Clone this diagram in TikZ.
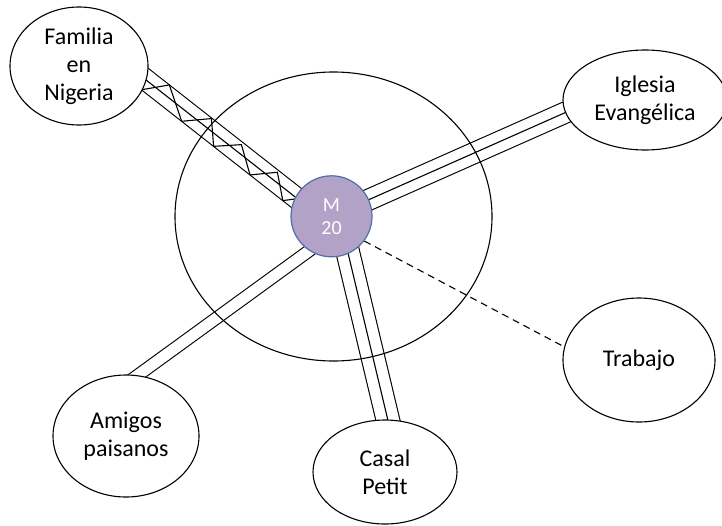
\documentclass[tikz,border=0pt]{standalone}
\usepackage{fontspec}
\setmainfont{Carlito}
\usetikzlibrary{shapes.geometric,calc,backgrounds}
\definecolor{mfill}{HTML}{B3A2C7}
\definecolor{mborder}{HTML}{4F6FA8}
\begin{document}
\begin{tikzpicture}[x=1pt,y=-1pt,
  ent/.style={draw=black, ellipse, line width=1.1pt, fill=white, inner sep=0pt,
    align=center, font=\fontsize{24}{28}\selectfont},
  link/.style={draw=black, line width=1.1pt},
  band/.style={link, double=white, double distance=#1},
  me/.style={circle, draw=mborder, line width=1.2pt, fill=mfill, minimum size=81pt,
    inner sep=0pt, align=center, text=white, font=\fontsize{20}{23}\selectfont},
  weak/.style={link, dash pattern=on 7pt off 5pt}]
\useasboundingbox (0,0) rectangle (722,525);

% nodes
\node[me] (m) at (331.5,216.3) {M\\20};
\node[ent, minimum width=138pt, minimum height=118pt] (fam) at (79,66) {Familia\\en\\Nigeria};
\node[ent, minimum width=164pt, minimum height=100pt] (igl) at (645,100) {Iglesia\\Evangélica};
\node[ent, minimum width=146pt, minimum height=122pt] (ami) at (126,436) {Amigos\\paisanos};
\node[ent, minimum width=144pt, minimum height=104pt] (cas) at (385,472) {Casal\\Petit};
\node[ent, minimum width=152pt, minimum height=124pt] (tra) at (639,360) {Trabajo};

% connector end points
\coordinate (fP) at (fam.-12);
\coordinate (fQ) at (m.152);
\coordinate (iP) at (igl.189);
\coordinate (iQ) at (m.24);
\coordinate (aP) at (ami.79);
\coordinate (aQ) at (m.237);
\coordinate (cP) at (cas.87);
\coordinate (cQ) at (m.-66);

\begin{pgfonlayer}{background}
  % Familia en Nigeria: strong, conflictive
  \draw[band=19.9pt] ($(fP)!-12pt!(fQ)$) -- ($(fQ)!-20pt!(fP)$);
  \draw[link] ($(fP)!-12pt!(fQ)$) -- ($(fQ)!-20pt!(fP)$);
  \draw[link, line join=miter]
    ($(fP)!0.01!(fQ)!10.5pt!-90:(fQ)$) --
    ($(fP)!0.11!(fQ)!10.5pt!90:(fQ)$) --
    ($(fP)!0.28!(fQ)!10.5pt!-90:(fQ)$) --
    ($(fP)!0.395!(fQ)!10pt!90:(fQ)$) --
    ($(fP)!0.495!(fQ)!10.5pt!-90:(fQ)$) --
    ($(fP)!0.605!(fQ)!8pt!90:(fQ)$) --
    ($(fP)!0.74!(fQ)!10.5pt!-90:(fQ)$) --
    ($(fP)!0.845!(fQ)!8.5pt!90:(fQ)$) --
    ($(fP)!0.96!(fQ)!10.5pt!-90:(fQ)$) --
    ($(fP)!1.03!(fQ)!3pt!-90:(fQ)$);
  % Iglesia Evangelica: strong
  \draw[band=20pt] ($(iP)!-12pt!(iQ)$) -- ($(iQ)!-20pt!(iP)$);
  \draw[link] ($(iP)!-12pt!(iQ)$) -- ($(iQ)!-20pt!(iP)$);
  % Amigos paisanos: medium
  \draw[band=11pt] ($(aP)!-12pt!(aQ)$) -- ($(aQ)!-20pt!(aP)$);
  % Casal Petit: strong
  \draw[band=22.4pt] ($(cP)!-12pt!(cQ)$) -- ($(cQ)!-20pt!(cP)$);
  \draw[link] ($(cP)!-12pt!(cQ)$) -- ($(cQ)!-20pt!(cP)$);
  % Trabajo: weak
  \draw[weak] (m.-37) -- (tra.170);
  % surrounding circle
  \node[draw=black, line width=1.1pt, ellipse, minimum width=317pt, minimum height=289pt,
    inner sep=0pt] (ring) at (333.5,216.5) {};
\end{pgfonlayer}
\end{tikzpicture}
\end{document}
